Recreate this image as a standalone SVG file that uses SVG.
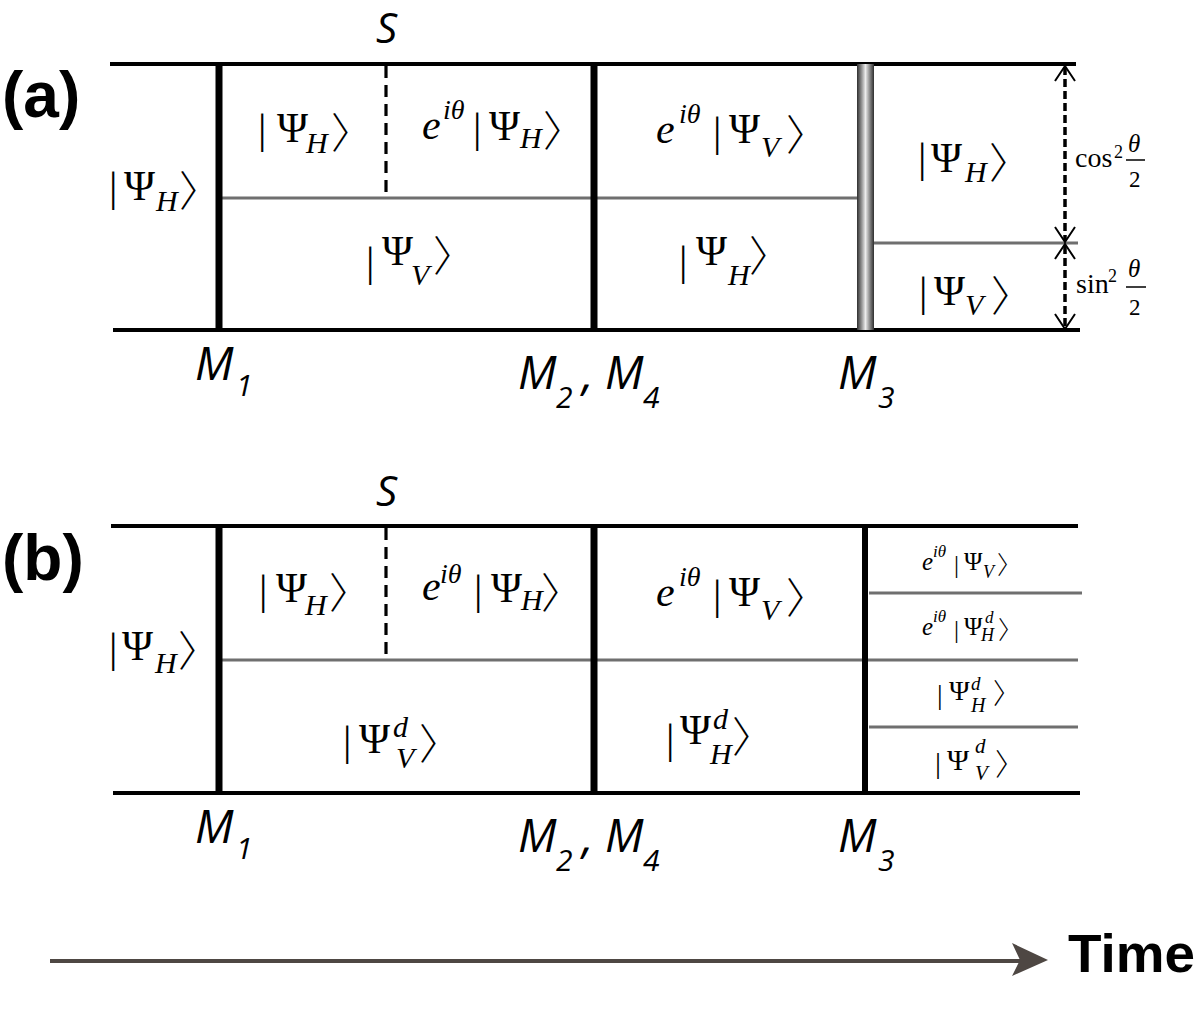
<svg xmlns="http://www.w3.org/2000/svg" width="1197" height="1011" viewBox="0 0 1197 1011">
<style>
.bk{stroke:#000;stroke-width:4;fill:none}
.mir{stroke:#000;stroke-width:7;fill:none}
.gr{stroke:#6f6f6f;stroke-width:3;fill:none}
.ds{stroke:#000;stroke-width:3.2;stroke-dasharray:12 7;fill:none}
.da{stroke:#000;stroke-width:3.5;stroke-dasharray:8 4;fill:none}
.ch{stroke:#000;stroke-width:2;fill:none}
.f{font-family:"Liberation Serif","Times New Roman",serif;fill:#000}
.p{font-size:42px}
.it{font-style:italic}
.sb{font-size:30px;font-style:italic}
.ex{font-size:28px;font-style:italic}
.an{font-family:"Noto Sans CJK JP","Noto Sans CJK SC",sans-serif;font-weight:300}
.lab{font-family:"Open Sans","DejaVu Sans",sans-serif;font-style:italic;fill:#000}
.pl{font-family:"Liberation Sans",Arial,sans-serif;font-weight:bold;fill:#000}
</style>
<defs>
<linearGradient id="bar" x1="0" y1="0" x2="1" y2="0">
<stop offset="0" stop-color="#2e2e2e"/>
<stop offset="0.25" stop-color="#8a8a8a"/>
<stop offset="0.5" stop-color="#ececec"/>
<stop offset="0.75" stop-color="#8a8a8a"/>
<stop offset="1" stop-color="#2e2e2e"/>
</linearGradient>
</defs>
<rect width="1197" height="1011" fill="#fff"/>

<g id="connectors">
<path class="bk" d="M110 64H1076"/>
<path class="bk" d="M113 330H1080"/>
<path class="gr" d="M222 198H857"/>
<path class="gr" d="M874 243H1078"/>
<path class="ds" d="M386 66V197"/>
<path class="mir" d="M219 64V330"/>
<path class="mir" d="M594 64V330"/>
<rect x="857" y="64" width="17" height="266" fill="url(#bar)"/>
<path class="da" d="M1065 67V241"/>
<path class="da" d="M1065 246V328"/>
<path class="ch" d="M1055 81L1065 66L1075 81"/>
<path class="ch" d="M1055 227L1065 242L1075 227"/>
<path class="ch" d="M1055 259L1065 244L1075 259"/>
<path class="ch" d="M1055 314L1065 329L1075 314"/>
<path d="M1126 160H1145M1126 287H1146" stroke="#000" stroke-width="1.6" fill="none"/>
<path class="bk" d="M111 526H1078"/>
<path class="bk" d="M113 793H1080"/>
<path class="gr" d="M222 660H1078"/>
<path class="gr" d="M869 593H1082"/>
<path class="gr" d="M869 727H1078"/>
<path class="ds" d="M386 528V659"/>
<path class="mir" d="M219 526V793"/>
<path class="mir" d="M594 526V793"/>
<path class="mir" d="M865 526V793" style="stroke-width:6"/>
<path d="M50 961H1020" stroke="#4e4743" stroke-width="4" fill="none"/>
<polygon points="1048,960 1012,943 1020,960 1012,976" fill="#4e4743"/>
</g>

<g id="panel-labels">
<text class="pl" x="2" y="117" font-size="64">(a)</text>
<text class="pl" x="2" y="580" font-size="64">(b)</text>
<text class="pl" x="1068" y="972" font-size="54" textLength="127" lengthAdjust="spacingAndGlyphs">Time</text>
</g>

<g id="mirrors-a">
<text class="lab" x="376" y="43" font-size="42">S</text>
<text class="lab" font-size="46"><tspan x="195" y="380">M</tspan><tspan x="236" y="396" font-size="30">1</tspan></text>
<text class="lab" font-size="46"><tspan x="518" y="389">M</tspan><tspan x="556" y="408" font-size="30">2</tspan><tspan x="582" y="390">,</tspan><tspan x="605" y="389">M</tspan><tspan x="643" y="408" font-size="30">4</tspan></text>
<text class="lab" font-size="46"><tspan x="838" y="389">M</tspan><tspan x="878" y="408" font-size="30">3</tspan></text>
</g>

<g id="mirrors-b">
<text class="lab" x="376" y="506" font-size="42">S</text>
<text class="lab" font-size="46"><tspan x="195" y="843">M</tspan><tspan x="236" y="859" font-size="30">1</tspan></text>
<text class="lab" font-size="46"><tspan x="518" y="852">M</tspan><tspan x="556" y="871" font-size="30">2</tspan><tspan x="582" y="853">,</tspan><tspan x="605" y="852">M</tspan><tspan x="643" y="871" font-size="30">4</tspan></text>
<text class="lab" font-size="46"><tspan x="838" y="852">M</tspan><tspan x="878" y="871" font-size="30">3</tspan></text>
</g>

<g id="state-a-in">
<text class="f p"><tspan x="109" y="201">|</tspan><tspan x="124" y="200">Ψ</tspan><tspan x="156" y="211" class="sb">H</tspan><tspan x="179" y="206" class="an">〉</tspan></text>
</g>
<g id="state-a-h1">
<text class="f p"><tspan x="258" y="143">|</tspan><tspan x="277" y="142">Ψ</tspan><tspan x="306" y="153" class="sb">H</tspan><tspan x="331" y="148" class="an">〉</tspan></text>
</g>
<g id="state-a-h2">
<text class="f p"><tspan x="422" y="139" class="it">e</tspan><tspan x="443" y="119" class="ex">iθ</tspan><tspan x="473" y="142">|</tspan><tspan x="489" y="140">Ψ</tspan><tspan x="520" y="148" class="sb">H</tspan><tspan x="543" y="146" class="an">〉</tspan></text>
</g>
<g id="state-a-v3">
<text class="f p"><tspan x="656" y="143" class="it">e</tspan><tspan x="679" y="123" class="ex">iθ</tspan><tspan x="713" y="146">|</tspan><tspan x="729" y="143">Ψ</tspan><tspan x="761" y="157" class="sb">V</tspan><tspan x="786" y="150" class="an">〉</tspan></text>
</g>
<g id="state-a-v1">
<text class="f p"><tspan x="366" y="276">|</tspan><tspan x="382" y="265">Ψ</tspan><tspan x="411" y="285" class="sb">V</tspan><tspan x="433" y="271" class="an">〉</tspan></text>
</g>
<g id="state-a-h3">
<text class="f p"><tspan x="679" y="275">|</tspan><tspan x="696" y="265">Ψ</tspan><tspan x="728" y="285" class="sb">H</tspan><tspan x="749" y="271" class="an">〉</tspan></text>
</g>
<g id="state-a-out-h">
<text class="f p"><tspan x="918" y="172">|</tspan><tspan x="931" y="172">Ψ</tspan><tspan x="965" y="182" class="sb">H</tspan><tspan x="989" y="178" class="an">〉</tspan></text>
</g>
<g id="state-a-out-v">
<text class="f p"><tspan x="919" y="306">|</tspan><tspan x="934" y="305">Ψ</tspan><tspan x="965" y="315" class="sb">V</tspan><tspan x="991" y="311" class="an">〉</tspan></text>
</g>
<g id="prob-cos">
<text class="f"><tspan x="1075" y="167" font-size="28">cos</tspan><tspan x="1114" y="158" font-size="18">2</tspan><tspan x="1128" y="152" font-size="25" class="it">θ</tspan><tspan x="1129" y="187" font-size="23">2</tspan></text>
</g>
<g id="prob-sin">
<text class="f"><tspan x="1076" y="293" font-size="28">sin</tspan><tspan x="1108" y="282" font-size="18">2</tspan><tspan x="1128" y="277" font-size="25" class="it">θ</tspan><tspan x="1129" y="315" font-size="23">2</tspan></text>
</g>

<g id="state-b-in">
<text class="f p"><tspan x="109" y="662">|</tspan><tspan x="122" y="660">Ψ</tspan><tspan x="155" y="673" class="sb">H</tspan><tspan x="178" y="666" class="an">〉</tspan></text>
</g>
<g id="state-b-h1">
<text class="f p"><tspan x="259" y="604">|</tspan><tspan x="276" y="602">Ψ</tspan><tspan x="305" y="615" class="sb">H</tspan><tspan x="329" y="608" class="an">〉</tspan></text>
</g>
<g id="state-b-h2">
<text class="f p"><tspan x="422" y="600" class="it">e</tspan><tspan x="440" y="583" class="ex">iθ</tspan><tspan x="474" y="604">|</tspan><tspan x="491" y="602">Ψ</tspan><tspan x="521" y="610" class="sb">H</tspan><tspan x="541" y="608" class="an">〉</tspan></text>
</g>
<g id="state-b-v3">
<text class="f p"><tspan x="656" y="606" class="it">e</tspan><tspan x="679" y="586" class="ex">iθ</tspan><tspan x="713" y="609">|</tspan><tspan x="729" y="606">Ψ</tspan><tspan x="761" y="620" class="sb">V</tspan><tspan x="786" y="613" class="an">〉</tspan></text>
</g>
<g id="state-b-vd">
<text class="f p"><tspan x="343" y="755">|</tspan><tspan x="359" y="753">Ψ</tspan><tspan x="393" y="737" class="sb">d</tspan><tspan x="396" y="768" class="sb">V</tspan><tspan x="419" y="759" class="an">〉</tspan></text>
</g>
<g id="state-b-hd">
<text class="f p"><tspan x="666" y="753">|</tspan><tspan x="680" y="744">Ψ</tspan><tspan x="713" y="729" class="sb">d</tspan><tspan x="710" y="764" class="sb">H</tspan><tspan x="732" y="752" class="an">〉</tspan></text>
</g>
<g id="state-b-out1">
<text class="f" font-size="25"><tspan x="922" y="570" class="it">e</tspan><tspan x="933" y="557" font-size="17" class="it">iθ</tspan><tspan x="954" y="573">|</tspan><tspan x="964" y="570">Ψ</tspan><tspan x="983" y="578" font-size="18" class="it">V</tspan><tspan x="997" y="574" class="an">〉</tspan></text>
</g>
<g id="state-b-out2">
<text class="f" font-size="25"><tspan x="922" y="635" class="it">e</tspan><tspan x="933" y="622" font-size="17" class="it">iθ</tspan><tspan x="954" y="638">|</tspan><tspan x="964" y="635">Ψ</tspan><tspan x="985" y="623" font-size="17" class="it">d</tspan><tspan x="981" y="641" font-size="18" class="it">H</tspan><tspan x="998" y="639" class="an">〉</tspan></text>
</g>
<g id="state-b-out3">
<text class="f" font-size="28"><tspan x="937" y="704">|</tspan><tspan x="949" y="700">Ψ</tspan><tspan x="971" y="690" font-size="19" class="it">d</tspan><tspan x="971" y="712" font-size="20" class="it">H</tspan><tspan x="993" y="704" class="an">〉</tspan></text>
</g>
<g id="state-b-out4">
<text class="f" font-size="30"><tspan x="935" y="773">|</tspan><tspan x="947" y="770">Ψ</tspan><tspan x="975" y="753" font-size="21" class="it">d</tspan><tspan x="975" y="780" font-size="21" class="it">V</tspan><tspan x="995" y="775" class="an">〉</tspan></text>
</g>
</svg>
